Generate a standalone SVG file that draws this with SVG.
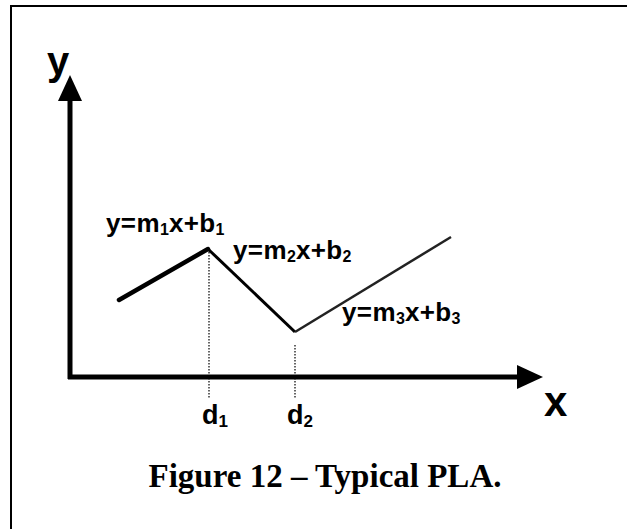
<svg xmlns="http://www.w3.org/2000/svg" width="627" height="529" viewBox="0 0 627 529">
<defs>
<style>
.lbl{font-family:"Liberation Sans",Arial,sans-serif;font-weight:bold;fill:#000}
.eq{font-family:"Liberation Sans",Arial,sans-serif;font-weight:bold;font-size:26px;fill:#000;letter-spacing:0.4px}
.sub{font-size:16px;letter-spacing:0}
.axis{stroke:#000;stroke-width:5;fill:none}
.dot{stroke:#000;stroke-width:1.2;stroke-dasharray:1.5 1.5;fill:none}
.cap{font-family:"Liberation Serif","Times New Roman",serif;font-weight:bold;font-size:33px;fill:#000}
</style>
</defs>
<rect width="627" height="529" fill="#fff"/>
<g id="frame">
<path d="M11 529 V6 H627" fill="none" stroke="#000" stroke-width="2"/>
</g>
<g id="connectors">
<g id="y-axis">
<line class="axis" x1="70" y1="379" x2="70" y2="98"/>
<polygon points="70,75 58,101 82,101" fill="#000"/>
</g>
<g id="x-axis">
<line class="axis" x1="68" y1="377" x2="520" y2="377"/>
<polygon points="543,377 517,365 517,389" fill="#000"/>
</g>
<g id="pla">
<line x1="119" y1="300" x2="208" y2="249" stroke="#000" stroke-width="4.5" stroke-linecap="round"/>
<line x1="208" y1="249" x2="295" y2="332" stroke="#000" stroke-width="3"/>
<line x1="295" y1="332" x2="451" y2="237" stroke="#222" stroke-width="2.5"/>
</g>
<line class="dot" x1="209" y1="252" x2="209" y2="398"/>
<line class="dot" x1="295" y1="345" x2="295" y2="398"/>
</g>
<g id="label-y"><text class="lbl" x="47" y="75" font-size="40">y</text></g>
<g id="label-x"><text class="lbl" x="544" y="416" font-size="42">x</text></g>
<g id="label-d1"><text class="lbl" x="202" y="424" font-size="27">d<tspan font-size="17" dy="3">1</tspan></text></g>
<g id="label-d2"><text class="lbl" x="287" y="424" font-size="27">d<tspan font-size="17" dy="3">2</tspan></text></g>
<g id="label-eq1"><text class="eq" x="106" y="232">y=m<tspan class="sub" dy="3">1</tspan><tspan dy="-3">x+b</tspan><tspan class="sub" dy="3">1</tspan></text></g>
<g id="label-eq2"><text class="eq" x="233" y="259">y=m<tspan class="sub" dy="3">2</tspan><tspan dy="-3">x+b</tspan><tspan class="sub" dy="3">2</tspan></text></g>
<g id="label-eq3"><text class="eq" x="342" y="321">y=m<tspan class="sub" dy="3">3</tspan><tspan dy="-3">x+b</tspan><tspan class="sub" dy="3">3</tspan></text></g>
<g id="caption"><text class="cap" x="325" y="487" text-anchor="middle">Figure 12 – Typical PLA.</text></g>
</svg>
